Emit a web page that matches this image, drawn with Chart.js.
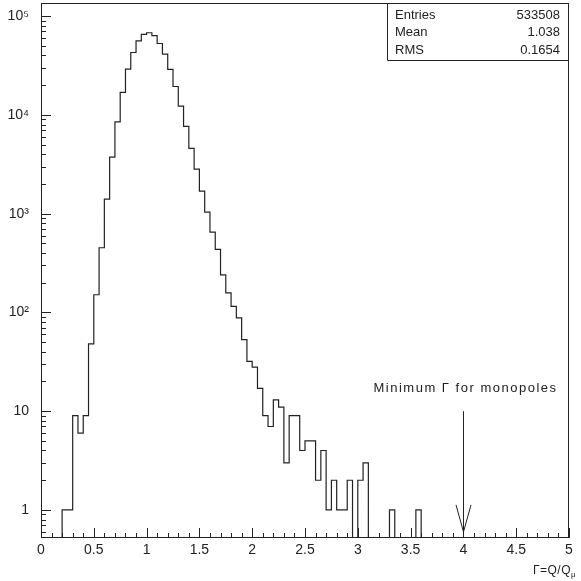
<!DOCTYPE html>
<html>
  <head>
    <title>Gamma = Q/Q_mu distribution</title>
    <script src="https://cdn.jsdelivr.net/npm/chart.js"></script>
    <style>
      body { margin: 0; background: #fff; }
      .wrap { width: 581px; height: 581px; }
    </style>
  </head>
  <body>
    <div class="wrap"><canvas id="histo"></canvas></div>
    <script>
      // 100 bins, 0.05 wide, from 0 to 5
      var binStart = 0;
      var binWidth = 0.05;
      var counts = [
        0, 0, 0, 0, 1, 1, 9, 6, 9, 48,
        151, 452, 1405, 3740, 8510, 16900, 29100, 42900, 56200, 65500,
        68000, 63500, 52900, 41200, 28900, 19400, 12300, 7650, 4580, 2830,
        1690, 1035, 652, 436, 240, 158, 115, 88, 53, 32,
        28, 17, 9, 7, 13, 11, 3, 9, 9, 4,
        5, 5, 2, 4, 1, 2, 1, 1, 2, 0,
        2, 3, 0, 0, 0, 0, 1, 0, 0, 0,
        0, 1, 0, 0, 0, 0, 0, 0, 0, 0,
        0, 0, 0, 0, 0, 0, 0, 0, 0, 0,
        0, 0, 0, 0, 0, 0, 0, 0, 0, 0
      ];
      var xTicks = [0, 0.5, 1, 1.5, 2, 2.5, 3, 3.5, 4, 4.5, 5];
      var yTicks = [1, 10, 100, 1000, 10000, 100000];
      var yTickLabels = ["1", "10", "10²", "10³", "10⁴", "10⁵"];
      var statNames = ["Entries", "Mean", "RMS"];
      var statValues = ["533508", "1.038", "0.1654"];
      var arrowAt = 4;
      var arrowText = "Minimum Γ for monopoles";

      var font = "'Liberation Sans', Arial, sans-serif";
      var ink = "#222";

      // outline points at bin low edges, zero bins pushed below the axis (clipped)
      var points = [];
      counts.forEach(function (c, i) {
        points.push({ x: binStart + i * binWidth, y: c > 0 ? c : 0.001 });
      });
      points.push({ x: binStart + counts.length * binWidth, y: 0.001 });

      var decor = {
        id: "decor",
        afterDraw: function (chart) {
          var ctx = chart.ctx;
          var a = chart.chartArea;
          var xs = chart.scales.x;
          var ys = chart.scales.y;
          ctx.save();
          ctx.strokeStyle = ink;
          ctx.lineWidth = 1;
          ctx.strokeRect(a.left + 0.5, a.top + 0.5, a.right - a.left - 1, a.bottom - a.top - 1);

          // inside ticks, log y
          ctx.beginPath();
          for (var d = -1; d <= 5; d++) {
            for (var k = 1; k <= 9; k++) {
              var v = k * Math.pow(10, d);
              if (v < ys.min || v > ys.max) continue;
              var py = Math.round(ys.getPixelForValue(v)) + 0.5;
              ctx.moveTo(a.left, py);
              ctx.lineTo(a.left + (k === 1 ? 10 : 5), py);
            }
          }
          // inside ticks, x every 0.1
          for (var j = 0; j <= 50; j++) {
            var px = Math.round(xs.getPixelForValue(j / 10)) + 0.5;
            ctx.moveTo(px, a.bottom);
            ctx.lineTo(px, a.bottom - (j % 5 === 0 ? 10 : 5));
          }
          ctx.stroke();

          // stats box
          var boxLeft = a.right - 182;
          var boxBottom = a.top + 57;
          ctx.beginPath();
          ctx.moveTo(boxLeft + 0.5, a.top);
          ctx.lineTo(boxLeft + 0.5, boxBottom + 0.5);
          ctx.lineTo(a.right, boxBottom + 0.5);
          ctx.stroke();
          ctx.fillStyle = ink;
          ctx.font = "13px " + font;
          ctx.textBaseline = "middle";
          statNames.forEach(function (n, i) {
            var ty = a.top + 12 + i * 17.5;
            ctx.textAlign = "left";
            ctx.fillText(n, boxLeft + 8, ty);
            ctx.textAlign = "right";
            ctx.fillText(statValues[i], a.right - 9, ty);
          });

          // arrow and label
          var ax = Math.round(xs.getPixelForValue(arrowAt)) + 0.5;
          var aTop = ys.getPixelForValue(10);
          var aTip = ys.getPixelForValue(0.6);
          ctx.beginPath();
          ctx.moveTo(ax, aTop);
          ctx.lineTo(ax, aTip);
          ctx.moveTo(ax - 7.5, aTip - 27);
          ctx.lineTo(ax, aTip);
          ctx.lineTo(ax + 7.5, aTip - 27);
          ctx.stroke();
          ctx.letterSpacing = "1.5px";
          ctx.textAlign = "center";
          ctx.fillText(arrowText, ax + 2, ys.getPixelForValue(17));

          // axis title
          ctx.letterSpacing = "0.5px";
          ctx.textAlign = "right";
          ctx.textBaseline = "alphabetic";
          ctx.font = "12px " + font;
          ctx.fillText("Γ=Q/Q", 571, 574);
          ctx.font = "8px " + font;
          ctx.textAlign = "left";
          ctx.fillText("μ", 571, 577);
          ctx.restore();
        }
      };

      var ctx = document.getElementById("histo").getContext("2d");
      var histo = new Chart(ctx, {
        type: "line",
        data: {
          datasets: [
            {
              label: "Gamma",
              data: points,
              stepped: "before",
              borderColor: ink,
              borderWidth: 1.2,
              pointRadius: 0,
              fill: false,
            },
          ],
        },
        options: {
          responsive: true,
          maintainAspectRatio: false,
          animation: false,
          layout: { padding: { top: 3, right: 12, left: 0, bottom: 0 } },
          plugins: { legend: { display: false }, tooltip: { enabled: false } },
          scales: {
            x: {
              type: "linear",
              min: 0,
              max: 5,
              grid: { display: false, drawTicks: false },
              border: { display: false },
              afterBuildTicks: function (s) {
                s.ticks = xTicks.map(function (v) { return { value: v }; });
              },
              afterFit: function (s) {
                s.height = 43;
                s.paddingLeft = 0;
                s.paddingRight = 0;
              },
              ticks: {
                padding: 4,
                maxRotation: 0,
                autoSkip: false,
                color: ink,
                font: { family: font, size: 14 },
                callback: function (v) { return String(v); },
              },
            },
            y: {
              type: "logarithmic",
              min: 0.52,
              max: 136000,
              grid: { display: false, drawTicks: false },
              border: { display: false },
              afterBuildTicks: function (s) {
                s.ticks = yTicks.map(function (v) { return { value: v }; });
              },
              afterFit: function (s) {
                s.width = 41;
                s.paddingTop = 0;
                s.paddingBottom = 0;
              },
              ticks: {
                padding: 12,
                autoSkip: false,
                color: ink,
                font: { family: font, size: 14 },
                callback: function (v) {
                  var i = yTicks.indexOf(v);
                  return i >= 0 ? yTickLabels[i] : "";
                },
              },
            },
          },
        },
        plugins: [decor],
      });
    </script>
  </body>
</html>
